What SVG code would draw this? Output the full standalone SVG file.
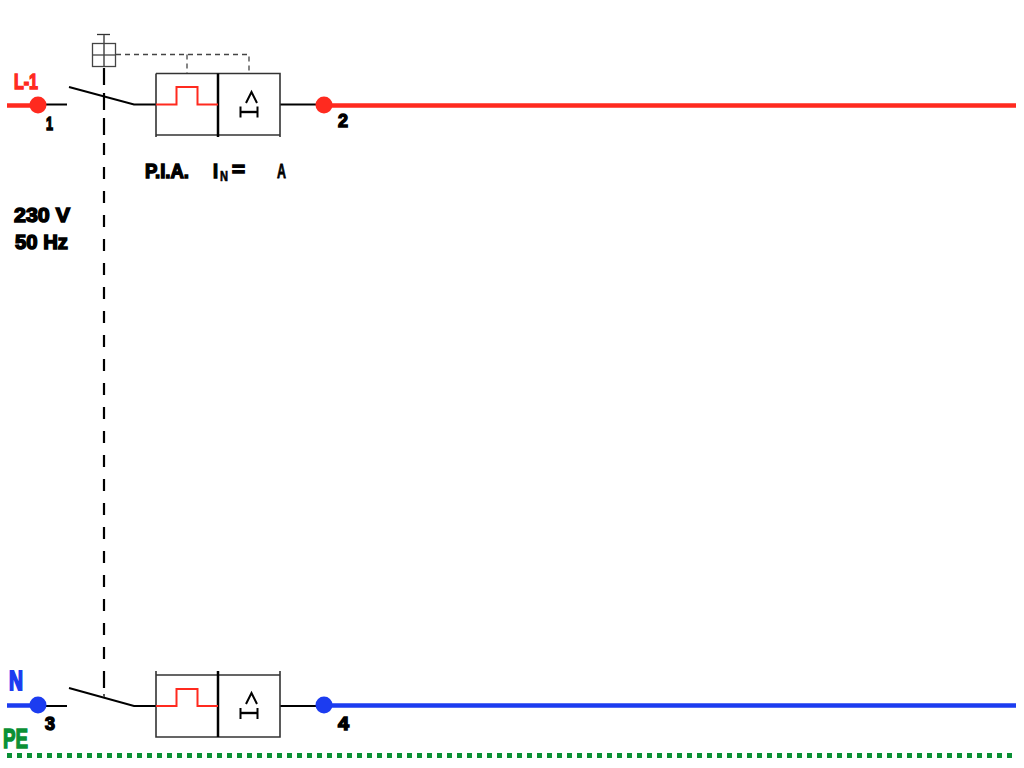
<svg xmlns="http://www.w3.org/2000/svg" width="1024" height="768" viewBox="0 0 1024 768">
<style>
.w{fill:none;stroke:#000;stroke-width:2}
.b{fill:none;stroke:#333;stroke-width:1.6}
.p{fill:none;stroke:#ff2a1f;stroke-width:2}
.d{fill:none;stroke:#000;stroke-width:2.5}
.s{fill:none;stroke:#000;stroke-width:2}
.f{fill:none;stroke:#000;stroke-width:2.4}
text{font-family:"Liberation Sans",Arial,sans-serif;font-weight:bold;stroke-width:1.500;paint-order:stroke}
.t{fill:#000;stroke:#000}
.r{fill:#ff2a1f;stroke:#ff2a1f}
.u{fill:#1c3cf0;stroke:#1c3cf0}
.g{fill:#0a9035;stroke:#0a9035}
</style>
<g id="connectors">
<path d="M7 105.500H38M324 105.500H1016" stroke="#ff2a1f" stroke-width="4.500" fill="none"/>
<path d="M7 705.500H38M324 705.500H1016" stroke="#1c3cf0" stroke-width="4.500" fill="none"/>
<path class="w" d="M38 104.500H67M69 87L134 104.500H156M280 104.500H324"/>
<path class="w" d="M38 706H67M69 688L134 706H156M280 706H324"/>
<path d="M104 68V85M104 93V110M104 118V135M104 671V688" fill="none" stroke="#000" stroke-width="2.200"/>
<path d="M104 143V671" fill="none" stroke="#000" stroke-width="2.200" stroke-dasharray="12 12"/>
<path d="M104 694V697" fill="none" stroke="#555" stroke-width="2"/>
<path d="M116 54.500H249V73M187 54.500V73" fill="none" stroke="#444" stroke-width="1.300" stroke-dasharray="5 4"/>
<path d="M7 755.500H1016" fill="none" stroke="#0a9035" stroke-width="5" stroke-dasharray="5 5"/>
</g>
<g id="handle">
<path d="M97 34.500H110" fill="none" stroke="#333" stroke-width="1.300"/>
<path d="M104 35V66" fill="none" stroke="#777" stroke-width="2"/>
<rect x="92.500" y="43.500" width="23" height="23" fill="none" stroke="#444" stroke-width="1.300"/>
<path d="M93 55H116" fill="none" stroke="#444" stroke-width="1.300"/>
</g>
<g id="node-1"><circle cx="38" cy="105" r="8.500" fill="#ff2a1f"/></g>
<g id="node-2"><circle cx="324" cy="105" r="8.500" fill="#ff2a1f"/></g>
<g id="node-3"><circle cx="38" cy="705" r="8.500" fill="#1c3cf0"/></g>
<g id="node-4"><circle cx="324" cy="705" r="8.500" fill="#1c3cf0"/></g>
<g id="breaker-top">
<path class="b" d="M156 73.500H280V137M156 73.500V137M156 135H280"/>
<path class="d" d="M218 73.500V137"/>
<path class="p" d="M156 104.500H176.500V87H197.500V104.500H218"/>
<path class="s" d="M246 103L251.500 92L257 103M240.500 106.500V117.500M257.500 106.500V117.500"/>
<path class="f" d="M240.500 112H257.500"/>
</g>
<g id="breaker-bottom">
<path class="b" d="M156 671V737H280V671M156 675H280"/>
<path class="d" d="M218 671V737"/>
<path class="p" d="M156 706H176.500V689H197.500V706H218"/>
<path class="s" d="M246 704L251.500 693L257 704M240.500 708V719M257.500 708V719"/>
<path class="f" d="M240.500 713H257.500"/>
</g>
<g id="labels">
<text class="r" x="14" y="89" font-size="22" textLength="24" lengthAdjust="spacingAndGlyphs">L-1</text>
<text class="t" x="46" y="130" font-size="19" textLength="7" lengthAdjust="spacingAndGlyphs">1</text>
<text class="t" x="338" y="127" font-size="19" textLength="10" lengthAdjust="spacingAndGlyphs">2</text>
<text class="t" x="145" y="178" font-size="21" textLength="44" lengthAdjust="spacingAndGlyphs">P.I.A.</text>
<text class="t" x="213" y="178" font-size="21" textLength="5" lengthAdjust="spacingAndGlyphs">I</text>
<text class="t" x="220" y="181" font-size="14" textLength="8" lengthAdjust="spacingAndGlyphs" style="stroke-width:.6">N</text>
<text class="t" x="232" y="176" font-size="20" textLength="13" lengthAdjust="spacingAndGlyphs">=</text>
<text class="t" x="277" y="178" font-size="21" textLength="9" lengthAdjust="spacingAndGlyphs" style="stroke-width:.8">A</text>
<text class="t" x="14" y="222" font-size="21" textLength="56" lengthAdjust="spacingAndGlyphs">230 V</text>
<text class="t" x="15" y="249" font-size="21" textLength="53" lengthAdjust="spacingAndGlyphs">50 Hz</text>
<text class="u" x="9" y="689.500" font-size="28" textLength="14" lengthAdjust="spacingAndGlyphs" style="stroke-width:2">N</text>
<text class="t" x="45" y="730" font-size="19" textLength="10" lengthAdjust="spacingAndGlyphs">3</text>
<text class="t" x="338" y="730" font-size="19" textLength="11" lengthAdjust="spacingAndGlyphs">4</text>
<text class="g" x="3" y="748" font-size="28" textLength="25" lengthAdjust="spacingAndGlyphs">PE</text>
</g>
</svg>
